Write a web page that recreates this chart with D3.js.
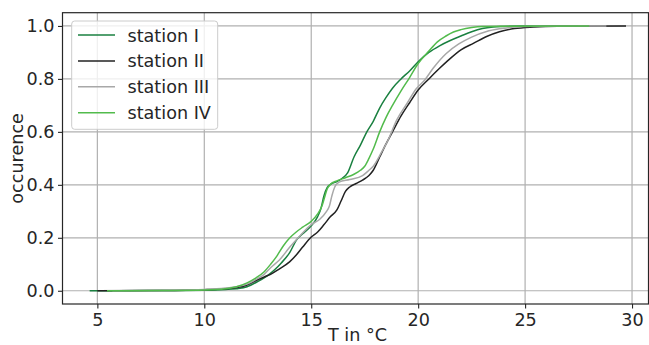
<!DOCTYPE html>
<html>
<head>
<meta charset="utf-8">
<script src="https://cdn.jsdelivr.net/npm/d3@7"></script>
<style>
  html, body { margin: 0; padding: 0; background: #fff; }
  svg { display: block; }
  text { font-family: "DejaVu Sans", sans-serif; fill: #262626; }
</style>
</head>
<body>
<svg id="chart" width="649" height="345"></svg>
<script>
// Cumulative occurrence of temperature per station: [T in °C, fraction]
const stationI = [
  [4.64,0],[6,0],[8,0.001],[10,0.002],[11,0.005],[11.5,0.008],[12,0.015],[12.5,0.035],
  [13,0.06],[13.3,0.08],[13.6,0.105],[14,0.145],[14.3,0.19],[14.6,0.215],[15,0.245],
  [15.3,0.28],[15.45,0.31],[15.6,0.36],[15.75,0.39],[15.9,0.402],[16.2,0.412],[16.45,0.425],
  [16.7,0.445],[17,0.505],[17.3,0.55],[17.6,0.6],[17.9,0.64],[18.2,0.69],[18.5,0.73],
  [18.8,0.765],[19.2,0.8],[19.6,0.83],[20,0.865],[20.5,0.9],[21,0.925],[21.5,0.945],
  [22,0.962],[22.5,0.978],[23,0.99],[23.5,0.996],[24,0.998],[25,1],[27.5,1]
];
const stationII = [
  [5,0],[8,0.001],[10,0.004],[11,0.008],[11.5,0.012],[12,0.022],[12.4,0.038],[12.8,0.052],
  [13.1,0.062],[13.5,0.082],[14,0.11],[14.3,0.135],[14.6,0.165],[15,0.203],[15.3,0.222],
  [15.6,0.25],[15.9,0.28],[16.2,0.305],[16.4,0.34],[16.6,0.375],[16.8,0.392],[17.1,0.405],
  [17.4,0.418],[17.7,0.435],[17.9,0.455],[18.2,0.505],[18.5,0.555],[18.8,0.6],[19.2,0.66],
  [19.6,0.71],[20,0.758],[20.5,0.8],[21,0.84],[21.4,0.87],[22,0.91],[22.6,0.935],
  [23.2,0.96],[23.8,0.978],[24.5,0.99],[25.4,0.996],[26.5,0.999],[29.72,1]
];
const stationIII = [
  [5.7,0],[8,0.002],[10,0.005],[11,0.01],[11.5,0.015],[12,0.025],[12.4,0.042],[12.8,0.062],
  [13.1,0.087],[13.5,0.115],[14,0.165],[14.5,0.21],[15,0.25],[15.4,0.27],[15.7,0.298],
  [15.85,0.32],[15.97,0.36],[16.1,0.392],[16.3,0.41],[16.8,0.42],[17.4,0.435],[17.7,0.455],
  [17.9,0.47],[18.3,0.525],[18.6,0.57],[19,0.645],[19.5,0.71],[19.9,0.762],[20.3,0.795],
  [20.7,0.84],[21.3,0.895],[21.9,0.932],[22.5,0.958],[23.2,0.979],[23.8,0.989],[24.5,0.996],
  [25.5,0.999],[28.8,1]
];
const stationIV = [
  [5.45,0],[8,0.001],[10,0.003],[11,0.008],[11.5,0.015],[12,0.03],[12.4,0.048],[12.8,0.072],
  [13.1,0.1],[13.4,0.132],[13.7,0.17],[14,0.2],[14.3,0.222],[14.6,0.24],[15,0.262],
  [15.3,0.29],[15.5,0.32],[15.65,0.36],[15.75,0.385],[15.9,0.402],[16.2,0.415],[16.6,0.427],
  [17,0.44],[17.3,0.455],[17.5,0.47],[17.7,0.5],[17.9,0.535],[18.2,0.6],[18.5,0.655],
  [18.8,0.7],[19.2,0.755],[19.6,0.805],[20,0.858],[20.5,0.905],[20.9,0.94],[21.3,0.962],
  [21.65,0.977],[22,0.986],[22.5,0.994],[23,0.998],[24,0.999],[28,1]
];

const seriesNames = ["station I", "station II", "station III", "station IV"];
const seriesData = [stationI, stationII, stationIII, stationIV];
const seriesColors = ["#1a8040", "#222222", "#a8a8a8", "#52bb4c"];

const xTicks = [5, 10, 15, 20, 25, 30];
const yTicks = [0.0, 0.2, 0.4, 0.6, 0.8, 1.0];

const fontSize = "17.6px";

const svg = d3.select("#chart");
const plot = { left: 62.5, right: 648.5, top: 12.7, bottom: 304 };

const x = d3.scaleLinear().domain([3.37, 30.77]).range([plot.left, plot.right]);
const y = d3.scaleLinear().domain([-0.05, 1.05]).range([plot.bottom, plot.top]);

svg.append("defs").append("clipPath").attr("id", "plotClip")
  .append("rect")
  .attr("x", plot.left).attr("y", plot.top)
  .attr("width", plot.right - plot.left).attr("height", plot.bottom - plot.top);

// grid
const grid = svg.append("g");
grid.selectAll("line.gx").data(xTicks).join("line")
  .attr("x1", d => x(d)).attr("x2", d => x(d))
  .attr("y1", plot.top).attr("y2", plot.bottom)
  .attr("stroke", "#b0b0b0").attr("stroke-width", 1.2);
grid.selectAll("line.gy").data(yTicks).join("line")
  .attr("y1", d => y(d)).attr("y2", d => y(d))
  .attr("x1", plot.left).attr("x2", plot.right)
  .attr("stroke", "#b0b0b0").attr("stroke-width", 1.2);

// axes
const xAxis = d3.axisBottom(x).tickValues(xTicks).tickFormat(d3.format("d"))
  .tickSize(4.5).tickPadding(5);
const yAxis = d3.axisLeft(y).tickValues(yTicks).tickFormat(d3.format(".1f"))
  .tickSize(4.5).tickPadding(3.5);

const gx = svg.append("g").attr("transform", `translate(0,${plot.bottom})`).call(xAxis);
const gy = svg.append("g").attr("transform", `translate(${plot.left},0)`).call(yAxis);
[gx, gy].forEach(g => {
  g.select(".domain").remove();
  g.selectAll(".tick line").attr("stroke", "#262626").attr("stroke-width", 1.1);
  g.selectAll(".tick text").attr("font-size", fontSize)
    .attr("font-family", "DejaVu Sans, sans-serif").attr("fill", "#262626");
});

// lines
const line = d3.line().x(d => x(d[0])).y(d => y(d[1])).curve(d3.curveMonotoneX);
const lines = svg.append("g").attr("clip-path", "url(#plotClip)");
seriesData.forEach((data, i) => {
  lines.append("path").datum(data)
    .attr("d", line)
    .attr("fill", "none")
    .attr("stroke", seriesColors[i])
    .attr("stroke-width", 1.5)
    .attr("stroke-linejoin", "round");
});

// frame
svg.append("rect")
  .attr("x", plot.left).attr("y", plot.top)
  .attr("width", plot.right - plot.left).attr("height", plot.bottom - plot.top)
  .attr("fill", "none").attr("stroke", "#262626").attr("stroke-width", 1.2);

// axis titles
svg.append("text")
  .attr("x", (plot.left + plot.right) / 2 + 2).attr("y", 341)
  .attr("text-anchor", "middle").attr("font-size", fontSize)
  .text("T in °C");
svg.append("text")
  .attr("transform", `translate(23,${(plot.top + plot.bottom) / 2}) rotate(-90)`)
  .attr("text-anchor", "middle").attr("font-size", fontSize)
  .text("occurence");

// legend
const legend = svg.append("g");
legend.append("rect")
  .attr("x", 71.7).attr("y", 21).attr("width", 146).attr("height", 108.3)
  .attr("rx", 3).attr("ry", 3)
  .attr("fill", "#ffffff").attr("fill-opacity", 0.8)
  .attr("stroke", "#cccccc").attr("stroke-width", 1);
const rowY = d3.scaleLinear().domain([0, 3]).range([35, 112.7]);
seriesNames.forEach((name, i) => {
  legend.append("line")
    .attr("x1", 78).attr("x2", 115)
    .attr("y1", rowY(i)).attr("y2", rowY(i))
    .attr("stroke", seriesColors[i]).attr("stroke-width", 1.5);
  legend.append("text")
    .attr("x", 127.5).attr("y", rowY(i) + 6.5)
    .attr("font-size", fontSize)
    .text(name);
});
</script>
</body>
</html>
